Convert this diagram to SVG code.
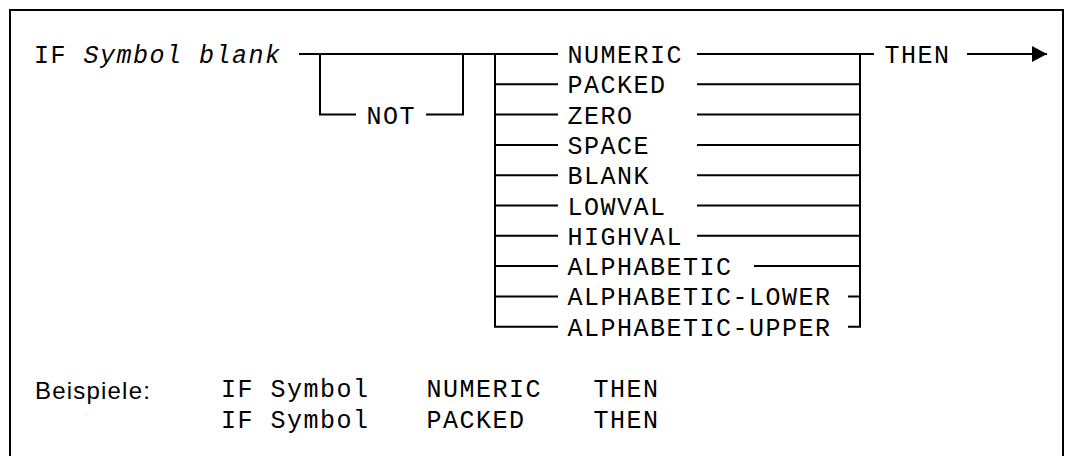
<svg xmlns="http://www.w3.org/2000/svg" width="1072" height="456" viewBox="0 0 1072 456">
<style>
.m{font-family:"Liberation Mono","DejaVu Sans Mono",monospace;font-size:25px;letter-spacing:1.5px;fill:#000}
.i{font-style:italic}
.s{font-family:"Liberation Sans",Arial,sans-serif;font-size:24px;letter-spacing:1.2px;fill:#000}
.c{fill:none;stroke:#000;stroke-width:2;stroke-linecap:square;stroke-linejoin:miter}
</style>
<defs>
<marker id="arr" viewBox="0 0 15 16" refX="15" refY="8" markerWidth="15" markerHeight="16" markerUnits="userSpaceOnUse" orient="auto">
<path d="M0,0 L15,8 L0,16 Z" fill="#000"/>
</marker>
</defs>
<rect x="10" y="10" width="1053" height="460" fill="#fff" stroke="#000" stroke-width="2"/>
<g id="connectors" class="c">
<path d="M300,54 H557"/>
<path d="M320,54 V114.6 H355"/>
<path d="M427,114.6 H463 V54"/>
<path d="M495,54 V326.7 H557"/>
<path d="M495,84.3 H557 M495,114.6 H557 M495,144.9 H557 M495,175.2 H557 M495,205.5 H557 M495,235.8 H557 M495,266.1 H557 M495,296.4 H557"/>
<path d="M698,54 H873"/>
<path d="M698,84.3 H860 M698,114.6 H860 M698,144.9 H860 M698,175.2 H860 M698,205.5 H860 M698,235.8 H860 M755,266.1 H860 M849,296.4 H860"/>
<path d="M849,326.7 H860 V54"/>
<path d="M967,54 H1047" marker-end="url(#arr)" stroke-linecap="butt"/>
</g>
<g id="start"><text class="m" x="34" y="63">IF <tspan class="i">Symbol blank</tspan></text></g>
<g id="not"><text class="m" x="366.5" y="123.6">NOT</text></g>
<g id="numeric"><text class="m" x="567.5" y="63">NUMERIC</text></g>
<g id="packed"><text class="m" x="567.5" y="93.3">PACKED</text></g>
<g id="zero"><text class="m" x="567.5" y="123.6">ZERO</text></g>
<g id="space"><text class="m" x="567.5" y="153.9">SPACE</text></g>
<g id="blank"><text class="m" x="567.5" y="184.2">BLANK</text></g>
<g id="lowval"><text class="m" x="567.5" y="214.5">LOWVAL</text></g>
<g id="highval"><text class="m" x="567.5" y="244.8">HIGHVAL</text></g>
<g id="alphabetic"><text class="m" x="567.5" y="275.1">ALPHABETIC</text></g>
<g id="alphabetic-lower"><text class="m" x="567.5" y="305.4">ALPHABETIC-LOWER</text></g>
<g id="alphabetic-upper"><text class="m" x="567.5" y="335.7">ALPHABETIC-UPPER</text></g>
<g id="then"><text class="m" x="884.5" y="63">THEN</text></g>
<g id="examples">
<text class="s" x="35" y="399">Beispiele:</text>
<text class="m" x="221" y="397">IF Symbol</text>
<text class="m" x="426.5" y="397">NUMERIC</text>
<text class="m" x="593.5" y="397">THEN</text>
<text class="m" x="221" y="428">IF Symbol</text>
<text class="m" x="426.5" y="428">PACKED</text>
<text class="m" x="593.5" y="428">THEN</text>
</g>
</svg>
